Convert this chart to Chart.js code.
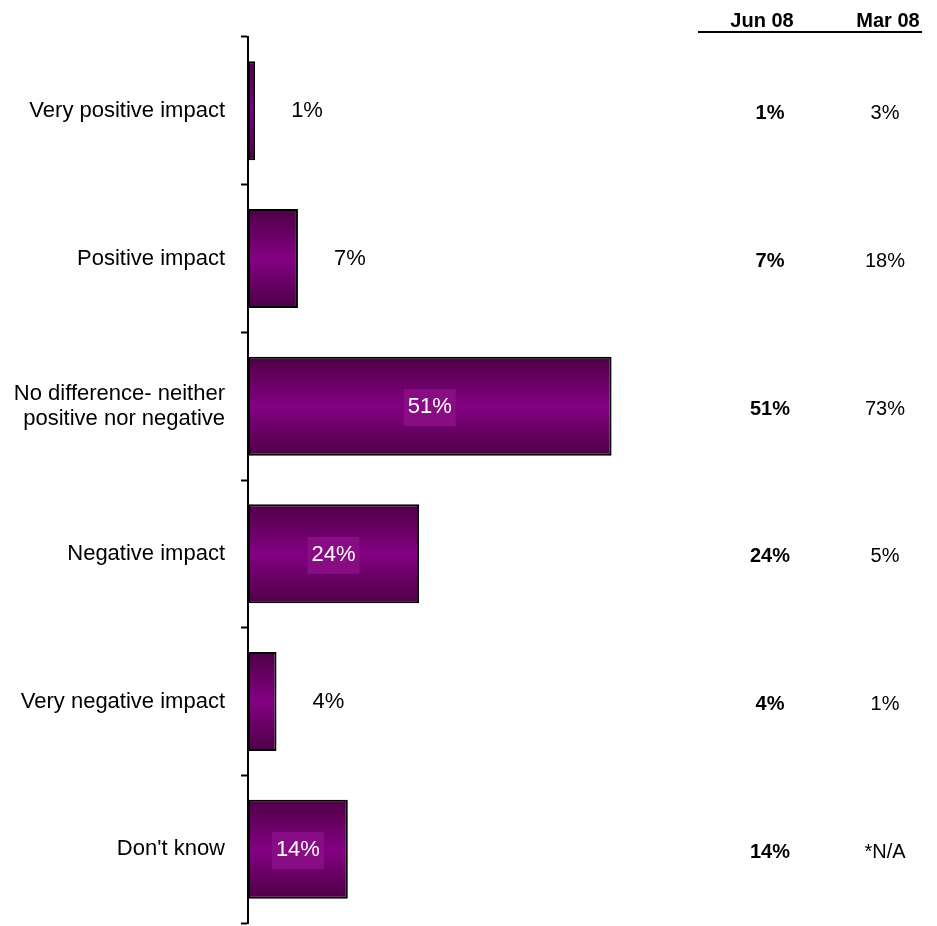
<!DOCTYPE html>
<html>
<head>
<meta charset="utf-8">
<script src="https://cdn.jsdelivr.net/npm/chart.js@4"></script>
<style>
  body { margin: 0; background: #fff; }
  #impactChart { display: block; }
</style>
</head>
<body>
<canvas id="impactChart" width="937" height="926"></canvas>
<script>
// ---------------- data ----------------
const categories = [
  'Very positive impact',
  'Positive impact',
  ['No difference- neither', 'positive nor negative'],
  'Negative impact',
  'Very negative impact',
  "Don't know"
];
const jun08 = [1, 7, 51, 24, 4, 14];
const mar08 = ['3%', '18%', '73%', '5%', '1%', '*N/A'];
const columnHeaders = ['Jun 08', 'Mar 08'];

const FONT = '"Liberation Sans", Arial, sans-serif';
const BAR_PCT = 0.67;

// purple bar fill, dark at the edges and bright through the middle
function barGradient(ctx) {
  const chart = ctx.chart;
  const yScale = chart.scales.y;
  if (!yScale || ctx.type !== 'data') return '#800080';
  const half = (yScale.height / categories.length) * BAR_PCT / 2;
  const cy = yScale.getPixelForValue(ctx.dataIndex);
  if (!isFinite(cy) || !isFinite(half) || half <= 0) return '#800080';
  const g = chart.ctx.createLinearGradient(0, cy - half, 0, cy + half);
  g.addColorStop(0, '#4e0046');
  g.addColorStop(0.5, '#830083');
  g.addColorStop(1, '#4e0046');
  return g;
}

// percentage labels on/next to each bar
const barLabels = {
  id: 'barLabels',
  afterDatasetsDraw(chart) {
    const c = chart.ctx;
    const meta = chart.getDatasetMeta(0);
    c.save();
    c.font = '22px ' + FONT;
    c.textBaseline = 'middle';
    meta.data.forEach((bar, i) => {
      const text = jun08[i] + '%';
      if (jun08[i] >= 10) {
        const cx = (bar.base + bar.x) / 2;
        const w = c.measureText(text).width;
        c.fillStyle = '#880c84';
        c.fillRect(cx - w / 2 - 4, bar.y - 17, w + 8, 37);
        c.fillStyle = '#ffffff';
        c.textAlign = 'center';
        c.fillText(text, cx, bar.y + 1);
      } else {
        c.fillStyle = '#000000';
        c.textAlign = 'left';
        c.fillText(text, bar.x + 36, bar.y);
      }
    });
    c.restore();
  }
};

// the Jun 08 / Mar 08 comparison columns on the right
const sideTable = {
  id: 'sideTable',
  afterDraw(chart) {
    const c = chart.ctx;
    const yScale = chart.scales.y;
    const colX = [762, 888];
    c.save();
    c.fillStyle = '#000';
    c.textAlign = 'center';
    c.textBaseline = 'middle';
    c.font = 'bold 20px ' + FONT;
    columnHeaders.forEach((h, k) => c.fillText(h, colX[k], 21));
    c.strokeStyle = '#000';
    c.lineWidth = 2;
    c.beginPath();
    c.moveTo(698, 32);
    c.lineTo(922, 32);
    c.stroke();
    categories.forEach((_, i) => {
      const y = yScale.getPixelForValue(i) + 3;
      c.font = 'bold 20px ' + FONT;
      c.fillText(jun08[i] + '%', colX[0] + 8, y);
      c.font = '20px ' + FONT;
      c.fillText(mar08[i], colX[1] - 3, y);
    });
    c.restore();
  }
};

const ctx = document.getElementById('impactChart').getContext('2d');
new Chart(ctx, {
  type: 'bar',
  data: {
    labels: categories,
    datasets: [{
      data: jun08,
      backgroundColor: barGradient,
      borderColor: '#000',
      borderWidth: 2,
      borderSkipped: false,
      barPercentage: BAR_PCT,
      categoryPercentage: 1
    }]
  },
  options: {
    indexAxis: 'y',
    responsive: false,
    animation: false,
    layout: { padding: { top: 37, bottom: 3, right: 247, left: 0 } },
    scales: {
      x: { display: false, min: 0, max: 62 },
      y: {
        afterFit: (s) => {
          s.width = 248;
          s.paddingTop = 0;
          s.paddingBottom = 0;
        },
        border: { display: true, color: '#000', width: 2 },
        grid: {
          display: true,
          drawOnChartArea: false,
          drawTicks: true,
          tickLength: 7,
          tickWidth: 2,
          tickColor: '#000'
        },
        ticks: {
          color: '#000',
          padding: 16,
          font: { family: FONT, size: 22, lineHeight: 1.12 }
        }
      }
    },
    plugins: {
      legend: { display: false },
      tooltip: { enabled: false }
    }
  },
  plugins: [barLabels, sideTable]
});
</script>
</body>
</html>
